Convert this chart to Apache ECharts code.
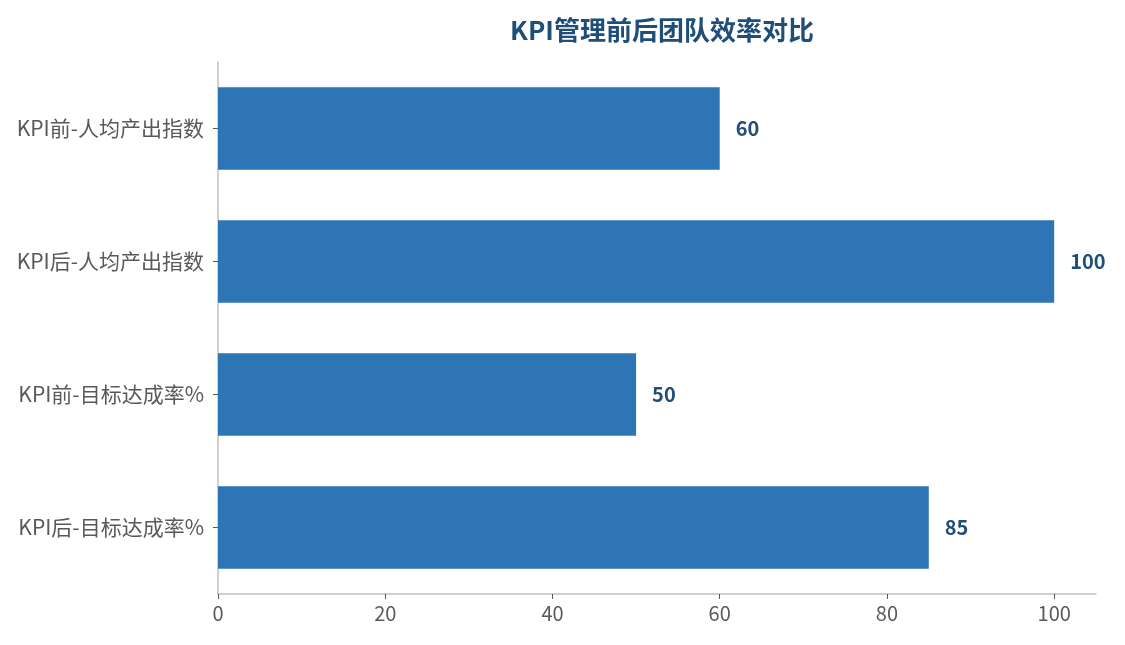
<!DOCTYPE html>
<html>
<head>
<meta charset="utf-8">
<script src="https://cdn.jsdelivr.net/npm/echarts@6/dist/echarts.min.js"></script>
<style>
  html, body { margin: 0; padding: 0; background: #fff; }
  #chart { width: 1125px; height: 645px; }
</style>
</head>
<body>
<div id="chart"></div>
<script>
const categories = ['KPI前-人均产出指数', 'KPI后-人均产出指数', 'KPI前-目标达成率%', 'KPI后-目标达成率%'];
const values = [60, 100, 50, 85];
const xTicks = [0, 20, 40, 60, 80, 100];

const font = '"Noto Sans CJK SC", "Noto Sans", sans-serif';
let myChart = echarts.init(document.getElementById('chart'));
myChart.setOption({
  backgroundColor: '#fff',
  title: {
    text: 'KPI管理前后团队效率对比',
    left: 657,
    textAlign: 'center',
    top: 12,
    textStyle: { color: '#1f4e79', fontSize: 26, fontWeight: 'bold', fontFamily: font }
  },
  grid: { left: 218, right: 29, top: 62, bottom: 51, containLabel: false },
  xAxis: {
    type: 'value',
    min: 0,
    max: 105,
    interval: 20,
    splitLine: { show: false },
    axisLine: { show: true, lineStyle: { color: '#c0c0c0', width: 1.5 } },
    axisTick: { show: true, length: 5, customValues: xTicks, lineStyle: { color: '#595959' } },
    axisLabel: { customValues: xTicks, color: '#595959', fontSize: 20, margin: 9, fontFamily: font }
  },
  yAxis: {
    type: 'category',
    inverse: true,
    data: categories,
    axisLine: { show: true, lineStyle: { color: '#c0c0c0', width: 1.5 } },
    axisTick: { show: true, alignWithLabel: true, length: 5, lineStyle: { color: '#595959' } },
    axisLabel: { color: '#595959', fontSize: 21, margin: 14, fontFamily: font }
  },
  series: [{
    type: 'bar',
    data: values,
    barWidth: '62%',
    itemStyle: { color: '#2e75b6' },
    label: {
      show: true,
      position: 'right',
      distance: 16,
      color: '#1f4e79',
      fontSize: 20,
      fontWeight: 'bold',
      fontFamily: font
    }
  }]
});
</script>
</body>
</html>
